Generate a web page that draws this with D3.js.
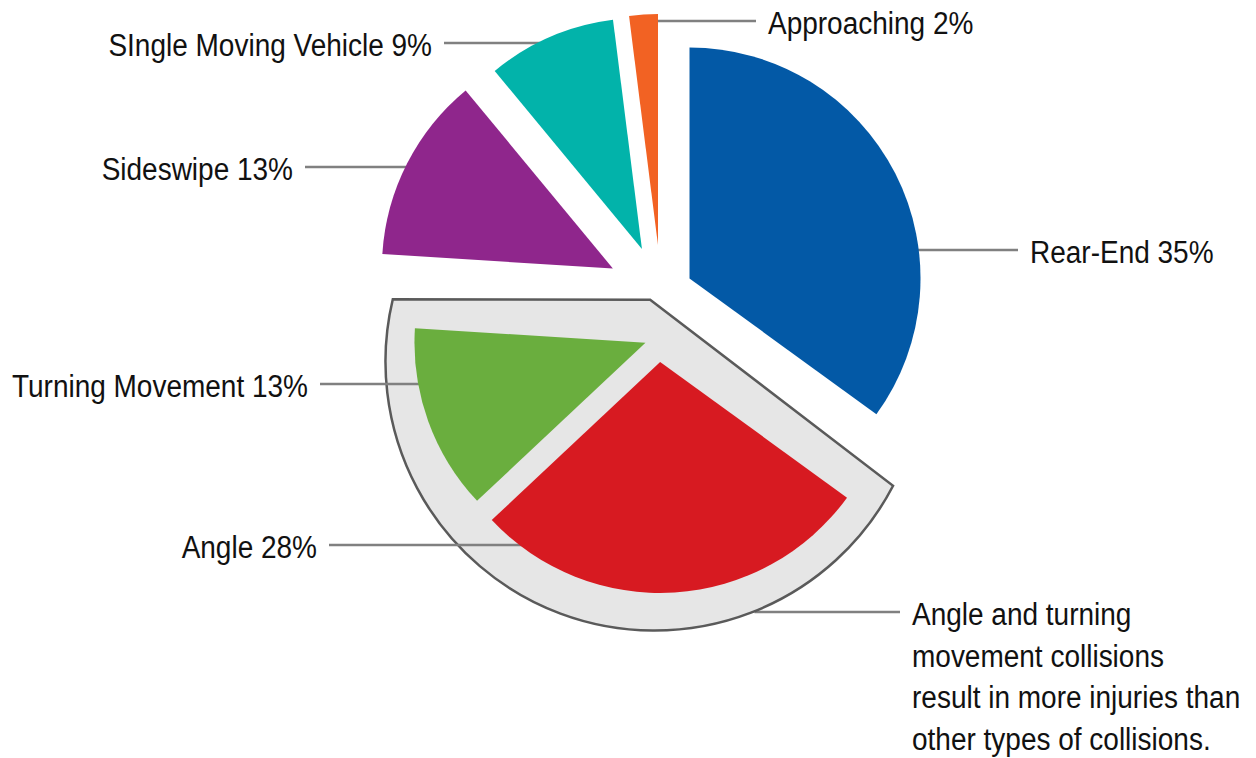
<!DOCTYPE html>
<html>
<head>
<meta charset="utf-8">
<script src="https://cdn.jsdelivr.net/npm/d3@7"></script>
<style>
  html, body { margin: 0; padding: 0; background: #fff; }
  svg { display: block; }
</style>
</head>
<body>
<div id="chart"></div>
<script>
// collision types, clockwise from 12 o'clock
const categories = ["Rear-End", "Angle", "Turning Movement", "Sideswipe", "SIngle Moving Vehicle", "Approaching"];
const shares = [35, 28, 13, 13, 9, 2];
const colors = ["#0359a6", "#d71a21", "#6aae3e", "#8f268c", "#02b3aa", "#f26223"];
const noteLines = ["Angle and turning", "movement collisions", "result in more injuries than", "other types of collisions."];

const width = 1256, height = 758;
const cx = 661, cy = 293, radius = 231;

// how far each wedge is pulled out of the pie
const explode = {
    "Rear-End": 32, "Angle": 24, "Turning Movement": 14,
    "Sideswipe": 54, "SIngle Moving Vehicle": 48, "Approaching": 48
};
const highlighted = ["Angle", "Turning Movement"];
const groupShift = { dist: 45, angle: 183 };   // whole highlighted group
const hl = { dist: 24, angle: 190, radius: 269, padStart: 8.5, padEnd: 9.8, apexDist: 62, apexAngle: 356 };

// label layout: x is text start (right side) or text end (left side), y is the leader line
const labelPos = {
    "Approaching": { side: "right", x: 768, y: 21 },
    "SIngle Moving Vehicle": { side: "left", x: 432, y: 43 },
    "Sideswipe": { side: "left", x: 293, y: 167 },
    "Rear-End": { side: "right", x: 1030, y: 250 },
    "Turning Movement": { side: "left", x: 308, y: 384 },
    "Angle": { side: "left", x: 317, y: 545 }
};
const note = { x: 912, y: 625, lineGap: 41.5, leaderY: 612, leaderEnd: 900 };
const textStretch = 1.13;   // the source type is a bit taller than Arial

const rad = a => a * Math.PI / 180;
const polar = (a, r) => [r * Math.sin(a), -r * Math.cos(a)];
const font = "'Liberation Sans', Arial, Helvetica, sans-serif";

const svg = d3.select("#chart").append("svg")
    .attr("width", width)
    .attr("height", height);

const pie = d3.pie().sort(null).value(d => d.value);
const slices = pie(categories.map((c, i) => ({ name: c, value: shares[i], color: colors[i] })));

const arc = d3.arc().innerRadius(0).outerRadius(radius);

// group centre for the highlighted wedges
const hlSlices = slices.filter(d => highlighted.includes(d.data.name));
const g0 = d3.min(hlSlices, d => d.startAngle);
const g1 = d3.max(hlSlices, d => d.endAngle);
const gOff = polar(rad(groupShift.angle), groupShift.dist);
const groupCenter = [cx + gOff[0], cy + gOff[1]];

// apex of every wedge
slices.forEach(d => {
    const mid = (d.startAngle + d.endAngle) / 2;
    const o = polar(mid, explode[d.data.name]);
    if (highlighted.includes(d.data.name)) {
        d.apex = [groupCenter[0] + o[0], groupCenter[1] + o[1]];
    } else {
        d.apex = [cx + o[0], cy + o[1]];
    }
});

// grey highlight shape
const hOff = polar(rad(hl.angle), hl.dist);
const hc = [groupCenter[0] + hOff[0], groupCenter[1] + hOff[1]];
const aOff = polar(rad(hl.apexAngle), hl.apexDist);
const apex = [hc[0] + aOff[0], hc[1] + aOff[1]];
const aStart = g1 + rad(hl.padEnd);      // top-left end of the arc
const aEnd = g0 - rad(hl.padStart);      // right end of the arc
const p1 = polar(aStart, hl.radius);

function insideSector(x, y, c, r, a0, a1) {
    const dx = x - c[0], dy = y - c[1];
    if (Math.hypot(dx, dy) > r) return false;
    let t = Math.atan2(dx, -dy);
    if (t < 0) t += 2 * Math.PI;
    return t >= a0 && t <= a1;
}

// note leader line, drawn first so the grey shape trims it
let nx = note.leaderEnd;
while (nx > 0 && !insideSector(nx, note.leaderY, hc, hl.radius, aEnd, aStart)) nx -= 0.5;
svg.append("line")
    .attr("x1", nx + 2).attr("x2", note.leaderEnd)
    .attr("y1", note.leaderY).attr("y2", note.leaderY)
    .attr("stroke", "#808080").attr("stroke-width", 2.5);

const hp = d3.path();
hp.moveTo(apex[0], apex[1]);
hp.lineTo(hc[0] + p1[0], hc[1] + p1[1]);
hp.arc(hc[0], hc[1], hl.radius, aStart - Math.PI / 2, aEnd - Math.PI / 2, true);
hp.closePath();
svg.append("path")
    .attr("d", hp.toString())
    .attr("fill", "#e6e6e6")
    .attr("stroke", "#5a5a5a")
    .attr("stroke-width", 2.5)
    .attr("stroke-linejoin", "miter");

// leader lines, under the wedges
const gap = 12;
slices.forEach(d => {
    const lp = labelPos[d.data.name];
    const step = lp.side === "right" ? -0.5 : 0.5;
    const x0 = lp.side === "right" ? lp.x - gap : lp.x + gap;
    let x = x0;
    for (let k = 0; k < 2000; k++) {
        if (insideSector(x, lp.y, d.apex, radius, d.startAngle, d.endAngle)) break;
        x += step;
    }
    svg.append("line")
        .attr("x1", x0).attr("x2", x + step * 6)
        .attr("y1", lp.y).attr("y2", lp.y)
        .attr("stroke", "#808080").attr("stroke-width", 2.5);
});

// wedges
svg.append("g").selectAll("path")
    .data(slices)
    .join("path")
    .attr("transform", d => `translate(${d.apex[0]},${d.apex[1]})`)
    .attr("d", arc)
    .attr("fill", d => d.data.color);

// labels
svg.append("g").selectAll("text")
    .data(slices)
    .join("text")
    .attr("transform", d => `translate(${labelPos[d.data.name].x},${labelPos[d.data.name].y + 13}) scale(1,${textStretch})`)
    .attr("text-anchor", d => labelPos[d.data.name].side === "right" ? "start" : "end")
    .style("font-family", font)
    .style("font-size", "28px")
    .style("fill", "#111")
    .text(d => `${d.data.name} ${d.data.value}%`);

// note text
svg.append("g").selectAll("text")
    .data(noteLines)
    .join("text")
    .attr("transform", (d, i) => `translate(${note.x},${note.y + i * note.lineGap}) scale(1,${textStretch})`)
    .style("font-family", font)
    .style("font-size", "28px")
    .style("fill", "#111")
    .text(d => d);
</script>
</body>
</html>
